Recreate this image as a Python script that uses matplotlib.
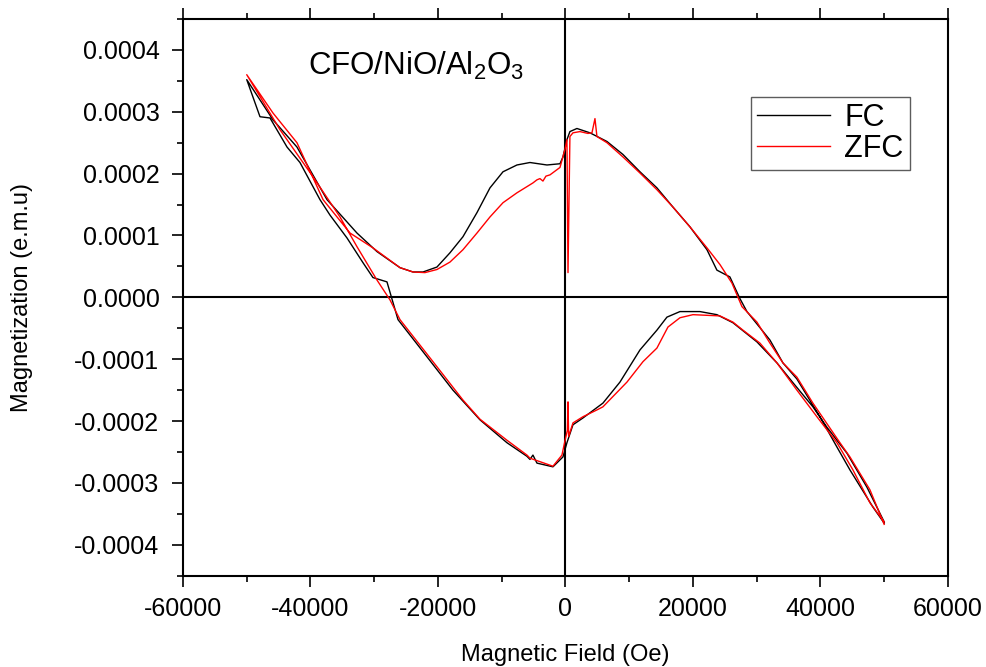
import numpy as np
import matplotlib
matplotlib.use('Agg')
import matplotlib.pyplot as plt
from matplotlib.ticker import MultipleLocator, FuncFormatter

plt.rcParams['font.family'] = ['Liberation Sans', 'DejaVu Sans']
plt.rcParams['mathtext.fontset'] = 'custom'
plt.rcParams['mathtext.rm'] = 'Liberation Sans'
plt.rcParams['mathtext.it'] = 'Liberation Sans'
plt.rcParams['axes.unicode_minus'] = False

# FC loop: field sweep +50 kOe -> -50 kOe -> +50 kOe
fc_field = [50000, 48230, 44630, 42590, 39920, 36310, 34120, 32080, 28470, 27370,
            25800, 23760, 22200, 19530, 16860, 14350, 11690, 9020, 6510, 3840,
            1800, 700, 235, -390, -860, -2900, -5570, -7610, -9800, -11840,
            -13880, -16080, -18120, -20160, -22350, -23920, -25960, -29570, -32710, -37410,
            -42120, -45880, -50000,
            -47920, -46350, -43680, -41650, -38510, -36940, -34270, -31760, -30200, -28000,
            -26270, -21730, -17650, -13410, -9180, -6040, -5570, -5100, -4470, -1960,
            -390, 235, 1180, 2750, 5880, 8550, 11690, 14350, 15920, 17960,
            21100, 23760, 26270, 30040, 33180, 35690, 38820, 41020, 44160, 47300, 50000]
fc_moment = [-3.65e-4, -3.39e-4, -2.79e-4, -2.42e-4, -1.93e-4, -1.32e-4, -1.06e-4, -6.9e-5, -2.3e-5, -2e-6,
             3.3e-5, 4.4e-5, 7.7e-5, 1.14e-4, 1.46e-4, 1.77e-4, 2.03e-4, 2.31e-4, 2.52e-4, 2.66e-4,
             2.73e-4, 2.68e-4, 2.55e-4, 2.27e-4, 2.16e-4, 2.14e-4, 2.18e-4, 2.14e-4, 2.03e-4, 1.77e-4,
             1.37e-4, 9.8e-5, 7.2e-5, 4.9e-5, 4.1e-5, 4.1e-5, 4.8e-5, 7.4e-5, 1.04e-4, 1.58e-4,
             2.43e-4, 2.87e-4, 3.52e-4,
             2.92e-4, 2.90e-4, 2.43e-4, 2.18e-4, 1.58e-4, 1.33e-4, 9.6e-5, 5.6e-5, 3.2e-5, 2.5e-5,
             -3.6e-5, -9.6e-5, -1.50e-4, -1.98e-4, -2.35e-4, -2.57e-4, -2.62e-4, -2.55e-4, -2.68e-4, -2.74e-4,
             -2.58e-4, -2.35e-4, -2.06e-4, -1.95e-4, -1.71e-4, -1.37e-4, -8.5e-5, -5.3e-5, -3.2e-5, -2.3e-5,
             -2.3e-5, -2.8e-5, -4.1e-5, -7.2e-5, -1.06e-4, -1.38e-4, -1.77e-4, -2.10e-4, -2.52e-4, -3.07e-4, -3.63e-4]

# ZFC loop, same sweep
zfc_field = [50000, 47760, 44630, 43060, 38820, 36310, 34120, 32080, 30040, 27690,
             26120, 24240, 22200, 19530, 16860, 14350, 11690, 9020, 6510, 4940,
             4630, 4160, 3530, 2270, 1180, 700, 400, 235, -80, -860,
             -2430, -3060, -3530, -4000, -4470, -5100, -6040, -7610, -9800, -11840,
             -13880, -16080, -18120, -20160, -22040, -23920, -25960, -30200, -33800, -38030,
             -42120, -45880, -50000,
             -44780, -39610, -35370, -32710, -29570, -27530, -25960, -20780, -16080, -13410,
             -9180, -6040, -5570, -1960, -550, -80, 300, 400, 500, 1180,
             2750, 4940, 5880, 9650, 12160, 14350, 16080, 17960, 20000, 24240,
             26270, 27840, 30510, 33180, 36310, 39450, 42590, 45100, 47760, 50000]
zfc_moment = [-3.67e-4, -3.11e-4, -2.58e-4, -2.35e-4, -1.71e-4, -1.29e-4, -1.06e-4, -7.4e-5, -4.0e-5, -1.5e-5,
              2.3e-5, 5.3e-5, 8.0e-5, 1.14e-4, 1.46e-4, 1.74e-4, 2.01e-4, 2.27e-4, 2.50e-4, 2.60e-4,
              2.89e-4, 2.66e-4, 2.65e-4, 2.68e-4, 2.66e-4, 2.60e-4, 4.0e-5, 2.55e-4, 2.39e-4, 2.10e-4,
              1.98e-4, 1.96e-4, 1.88e-4, 1.92e-4, 1.90e-4, 1.85e-4, 1.79e-4, 1.69e-4, 1.53e-4, 1.30e-4,
              1.04e-4, 7.7e-5, 5.7e-5, 4.5e-5, 4.0e-5, 4.1e-5, 4.8e-5, 8.0e-5, 1.04e-4, 1.58e-4,
              2.50e-4, 2.98e-4, 3.60e-4,
              2.71e-4, 1.95e-4, 1.30e-4, 8.2e-5, 2.8e-5, -4e-6, -3.6e-5, -1.04e-4, -1.66e-4, -1.97e-4,
              -2.31e-4, -2.55e-4, -2.60e-4, -2.73e-4, -2.55e-4, -2.32e-4, -2.15e-4, -1.69e-4, -2.25e-4, -2.03e-4,
              -1.93e-4, -1.82e-4, -1.77e-4, -1.37e-4, -1.04e-4, -8.2e-5, -4.8e-5, -3.3e-5, -2.8e-5, -3.0e-5,
              -4.0e-5, -5.3e-5, -7.4e-5, -1.06e-4, -1.50e-4, -1.93e-4, -2.35e-4, -2.79e-4, -3.32e-4, -3.63e-4]

fig = plt.figure(figsize=(9.87, 6.67), dpi=100)
ax = fig.add_axes([0.1854, 0.1369, 0.775, 0.8346])

ax.axhline(0, color='black', lw=1.5, zorder=1)
ax.axvline(0, color='black', lw=1.5, zorder=1)
ax.plot(fc_field, fc_moment, color='black', lw=1.0, label='FC', zorder=3)
ax.plot(zfc_field, zfc_moment, color='#ff0000', lw=1.0, label='ZFC', zorder=4)

ax.set_xlim(-60000, 60000)
ax.set_ylim(-0.00045, 0.00045)
ax.xaxis.set_major_locator(MultipleLocator(20000))
ax.xaxis.set_minor_locator(MultipleLocator(10000))
ax.yaxis.set_major_locator(MultipleLocator(0.0001))
ax.yaxis.set_minor_locator(MultipleLocator(0.00005))
ax.xaxis.set_major_formatter(FuncFormatter(lambda v, p: f'{int(round(v))}'))
ax.yaxis.set_major_formatter(FuncFormatter(lambda v, p: f'{round(v, 6) + 0.0:.4f}'))

for s in ax.spines.values():
    s.set_linewidth(1.5)
ax.tick_params(which='both', direction='out', top=True, right=False, width=1.2,
               labelsize=18)
ax.tick_params(which='major', length=8)
ax.tick_params(which='minor', length=4)
ax.tick_params(axis='y', pad=9)
ax.tick_params(axis='x', pad=7)

ax.set_xlabel('Magnetic Field (Oe)', fontsize=17, va='center')
ax.set_ylabel('Magnetization (e.m.u)', fontsize=17, va='center')
ax.xaxis.set_label_coords(0.5, -0.1425)
ax.yaxis.set_label_coords(-0.2105, 0.5)

ax.text(0.163, 0.899, 'CFO/NiO/Al$_2$O$_3$', transform=ax.transAxes,
        fontsize=22.5, ha='left', va='baseline')

leg = ax.legend(loc='upper left', bbox_to_anchor=(0.7425, 0.86), borderaxespad=0,
                fontsize=22, frameon=True, fancybox=False, edgecolor='#333333',
                handlelength=2.4, handletextpad=0.45, borderpad=0.2, labelspacing=0.02)
leg.get_frame().set_linewidth(1.0)

fig.savefig('out.png', dpi=100)
